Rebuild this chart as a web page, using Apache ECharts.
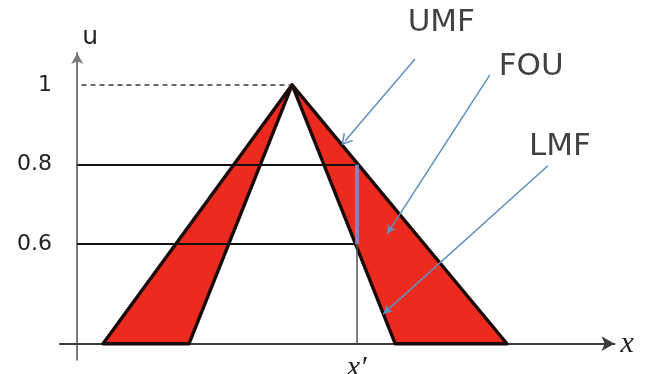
<!DOCTYPE html>
<html>
<head>
<meta charset="utf-8">
<script src="https://cdn.jsdelivr.net/npm/echarts@6/dist/echarts.min.js"></script>
<style>
  html, body { margin: 0; padding: 0; background: #ffffff; }
  #chart { width: 648px; height: 374px; }
</style>
</head>
<body>
<div id="chart"></div>
<script>
// Interval type-2 triangular fuzzy set: upper (UMF) and lower (LMF) membership functions.
// The grade scale is linear through the labelled levels; the x-axis baseline sits at u = 0.35.
const umfX = [0.6, 5, 10];
const umfU = [0.35, 1, 0.35];
const lmfX = [2.6, 5, 7.4];
const lmfU = [0.35, 1, 0.35];

// Labelled membership grades and the sample input x'
const gradeTicks = [0.6, 0.8, 1];
const xPrime = 6.5;
const xPrimeLabel = 'x\u2032';

// Annotation callouts: [label, label anchor, arrow start, arrow end]
const calloutNames = ['UMF', 'FOU', 'LMF'];
const calloutText = [[8.47, 1.155], [10.56, 1.045], [11.23, 0.844]];
const calloutFrom = [[7.86, 1.065], [9.60, 1.025], [10.95, 0.797]];
const calloutTo = [[6.23, 0.859], [7.21, 0.626], [7.12, 0.425]];

const chart = echarts.init(document.getElementById('chart'), null, { renderer: 'canvas' });

const baseU = umfU[0];
const peakX = umfX[1];
const upperAtPrime = gradeTicks[1];
const lowerAtPrime = gradeTicks[0];

// Open chevron used as the UMF arrow head
const chevron = 'path://M0,10 L5,0 L10,10 L8.6,10 L5,2.8 L1.4,10 Z';

const blue = '#5f8fbf';

const levelLines = [
  [{ coord: [0.1, 1], lineStyle: { type: [5, 4], color: '#6a6a6a', width: 2 } }, { coord: [peakX - 0.05, 1] }],
  [{ coord: [0, upperAtPrime], lineStyle: { type: 'solid', color: '#111', width: 1.8 } }, { coord: [xPrime, upperAtPrime] }],
  [{ coord: [0, lowerAtPrime], lineStyle: { type: 'solid', color: '#111', width: 1.8 } }, { coord: [xPrime, lowerAtPrime] }],
  [{ coord: [xPrime, baseU], lineStyle: { type: 'solid', color: '#555', width: 1.5 } }, { coord: [xPrime, lowerAtPrime] }],
  [{ coord: [xPrime, lowerAtPrime], lineStyle: { type: 'solid', color: 'rgba(135,140,200,0.85)', width: 4 } }, { coord: [xPrime, upperAtPrime] }]
];

const calloutLines = calloutNames.map(function (name, i) {
  return [
    { coord: calloutFrom[i], symbol: 'none' },
    {
      coord: calloutTo[i],
      symbol: i === 0 ? chevron : 'arrow',
      symbolSize: i === 0 ? [13, 11] : [7, 9]
    }
  ];
});

chart.setOption({
  animation: false,
  grid: {
    left: 60, right: 33.5, top: 53, height: 306.7,
    containLabel: false,
    outerBoundsMode: 'none'
  },
  xAxis: {
    type: 'value',
    min: -0.4,
    max: 12.5,
    position: 'bottom',
    offset: -16,
    splitLine: { show: false },
    axisTick: { show: false },
    axisLine: {
      show: true,
      onZero: false,
      symbol: ['none', 'arrow'],
      symbolSize: [11, 13],
      lineStyle: { color: '#3a3a3a', width: 2 }
    },
    axisLabel: {
      customValues: [xPrime],
      formatter: function () { return xPrimeLabel; },
      margin: 9,
      fontFamily: 'Liberation Serif',
      fontStyle: 'italic',
      fontSize: 30,
      color: '#222'
    },
    name: 'x',
    nameLocation: 'end',
    nameGap: 6,
    nameTextStyle: {
      fontFamily: 'Liberation Serif',
      fontStyle: 'italic',
      fontSize: 30,
      color: '#222'
    }
  },
  yAxis: {
    type: 'value',
    min: 0.31,
    max: 1.08,
    splitLine: { show: false },
    axisTick: { show: false },
    axisLine: {
      show: true,
      onZero: true,
      symbol: ['none', 'arrow'],
      symbolSize: [9, 11],
      lineStyle: { color: '#7a7a7a', width: 2 }
    },
    axisLabel: {
      customValues: gradeTicks,
      formatter: function (v) { return String(v); },
      margin: 8,
      fontFamily: 'DejaVu Sans',
      fontSize: 22,
      color: '#222'
    },
    name: 'u',
    nameLocation: 'end',
    nameGap: 3,
    nameTextStyle: {
      align: 'left',
      padding: [0, 0, 0, 5],
      fontFamily: 'DejaVu Sans',
      fontSize: 25,
      color: '#222'
    }
  },
  series: [
    {
      // Footprint of uncertainty: region between UMF and LMF
      name: 'FOU',
      type: 'custom',
      coordinateSystem: 'cartesian2d',
      data: [[peakX, 1]],
      z: 2,
      renderItem: function (params, api) {
        const pts = [];
        for (let i = 0; i < umfX.length; i++) pts.push(api.coord([umfX[i], umfU[i]]));
        for (let i = lmfX.length - 1; i >= 0; i--) pts.push(api.coord([lmfX[i], lmfU[i]]));
        return {
          type: 'polygon',
          shape: { points: pts },
          style: { fill: '#ec2a1e', stroke: '#1a0a08', lineWidth: 3.4, lineJoin: 'round' }
        };
      },
      markLine: {
        silent: true,
        symbol: 'none',
        label: { show: false },
        lineStyle: { type: 'solid' },
        z: 3,
        data: levelLines
      }
    },
    {
      name: 'callouts',
      type: 'scatter',
      clip: false,
      symbolSize: 0,
      z: 5,
      data: calloutNames.map(function (n, i) { return { name: n, value: calloutText[i] }; }),
      label: {
        show: true,
        position: 'inside',
        formatter: '{b}',
        fontFamily: 'DejaVu Sans',
        fontSize: 31,
        color: '#111'
      },
      markLine: {
        silent: true,
        label: { show: false },
        lineStyle: { color: blue, width: 1.5, type: 'solid' },
        z: 4,
        data: calloutLines
      }
    }
  ]
});
</script>
</body>
</html>
